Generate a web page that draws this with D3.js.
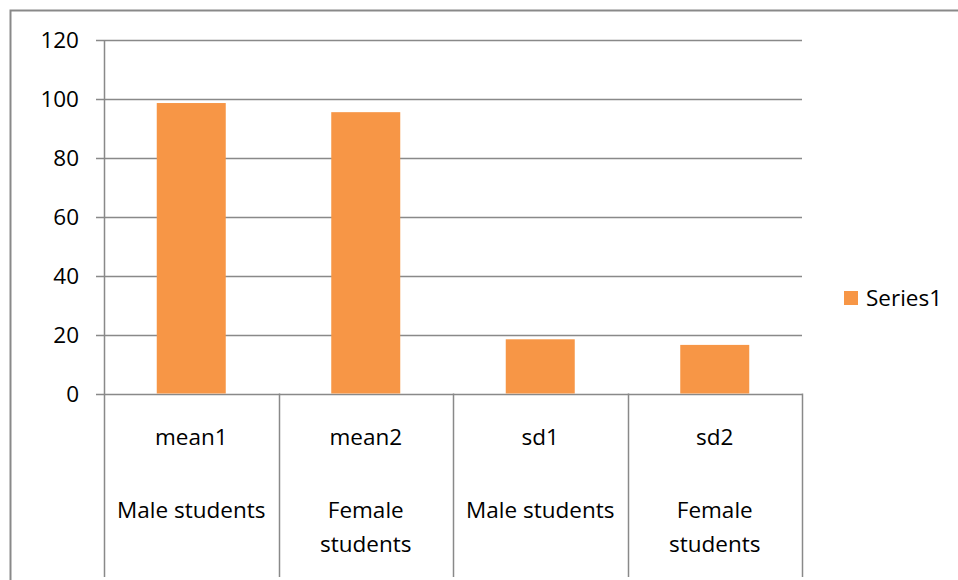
<!DOCTYPE html>
<html>
<head>
<meta charset="utf-8">
<script src="https://cdn.jsdelivr.net/npm/d3@7"></script>
<style>
  body { margin: 0; background: #fff; }
  text { font-family: "Open Sans", sans-serif; fill: #000; }
</style>
</head>
<body>
<div id="chart"></div>
<script>
// chart data
const categories = ['mean1', 'mean2', 'sd1', 'sd2'];
const groups = [['Male students'], ['Female', 'students'], ['Male students'], ['Female', 'students']];
const values = [98.6, 95.5, 18.4, 16.5];
const yTicks = [0, 20, 40, 60, 80, 100, 120];
const seriesName = 'Series1';

const width = 958, height = 580;
const margin = {top: 40, left: 104, right: 156, bottom: 186};
const lineColor = '#898989';
const barColor = '#F79646';
const fontSize = '22.5px';

const svg = d3.select('#chart').append('svg')
  .attr('width', width)
  .attr('height', height);

// outer frame (only top and left edges visible)
svg.append('path')
  .attr('d', `M10.5,${height} V10.5 H${width}`)
  .attr('fill', 'none')
  .attr('stroke', lineColor)
  .attr('stroke-width', 2);

const x = d3.scaleBand()
  .domain(categories)
  .range([margin.left, width - margin.right])
  .paddingInner(0)
  .paddingOuter(0);

const y = d3.scaleLinear()
  .domain([0, 120])
  .range([height - margin.bottom - 0.5, margin.top]);

// gridlines
svg.append('g')
  .selectAll('line')
  .data(yTicks)
  .join('line')
  .attr('x1', margin.left - 8)
  .attr('x2', width - margin.right)
  .attr('y1', d => Math.round(y(d)) + 0.5)
  .attr('y2', d => Math.round(y(d)) + 0.5)
  .attr('stroke', lineColor)
  .attr('stroke-width', 1.5);

// y tick labels
svg.append('g')
  .selectAll('text')
  .data(yTicks)
  .join('text')
  .attr('x', 79)
  .attr('y', d => y(d))
  .attr('dy', '0.36em')
  .attr('text-anchor', 'end')
  .style('font-size', fontSize)
  .text(d => d);

// category dividers, y axis included
const bottomY = 577;
const dividers = categories.map(c => x(c)).concat([x.range()[1]]);
svg.append('g')
  .selectAll('line')
  .data(dividers)
  .join('line')
  .attr('x1', d => Math.round(d) + 0.5)
  .attr('x2', d => Math.round(d) + 0.5)
  .attr('y1', (d, i) => i === 0 ? y(120) : y(0))
  .attr('y2', bottomY)
  .attr('stroke', lineColor)
  .attr('stroke-width', 1.5);

// bars
const barWidth = 69;
svg.append('g')
  .selectAll('rect')
  .data(values)
  .join('rect')
  .attr('x', (d, i) => x(categories[i]) + (x.bandwidth() - barWidth) / 2)
  .attr('y', d => y(d))
  .attr('width', barWidth)
  .attr('height', d => y(0) - y(d))
  .attr('fill', barColor);

// category labels
const labels = svg.append('g')
  .selectAll('g')
  .data(categories)
  .join('g')
  .attr('transform', d => `translate(${x(d) + x.bandwidth() / 2},0)`);

labels.append('text')
  .attr('y', 445)
  .attr('text-anchor', 'middle')
  .style('font-size', fontSize)
  .text(d => d);

labels.each(function(d, i) {
  const g = d3.select(this);
  groups[i].forEach((line, j) => {
    g.append('text')
      .attr('y', 518 + j * 34)
      .attr('text-anchor', 'middle')
      .style('font-size', fontSize)
      .text(line);
  });
});

// legend
const legend = svg.append('g')
  .attr('transform', 'translate(844,291)');
legend.append('rect')
  .attr('width', 14)
  .attr('height', 14)
  .attr('fill', barColor);
legend.append('text')
  .attr('x', 22)
  .attr('y', 7)
  .attr('dy', '0.36em')
  .style('font-size', fontSize)
  .text(seriesName);
</script>
</body>
</html>
